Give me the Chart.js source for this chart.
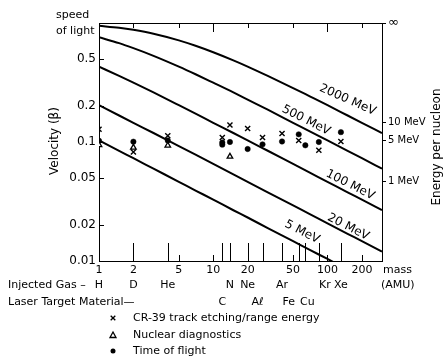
<!DOCTYPE html>
<html><head><meta charset="utf-8">
<script src="https://cdn.jsdelivr.net/npm/chart.js@4.4.1/dist/chart.umd.min.js"></script>
<style>html,body{margin:0;padding:0;background:#fff;}canvas{display:block;}</style>
</head><body>
<canvas id="c" width="443" height="358"></canvas>
<script>
// ---------- data ----------
const massTicks = [1, 2, 5, 10, 20, 50, 100, 200];
const massTickLabels = ['1', '2', '5', '10', '20', '50', '100', '200'];
const velTicks = [0.01, 0.02, 0.05, 0.1, 0.2, 0.5, 1];
const velTickLabels = ['0.01', '0.02', '0.05', '0.1', '0.2', '0.5', ''];
const energyTicks = [0.0463, 0.103, 0.145, 1];
const energyTickLabels = ['1 MeV', '5 MeV', '10 MeV', '\u221E'];

const curveLabels = ['2000 MeV', '500 MeV', '100 MeV', '20 MeV', '5 MeV'];
const curveMass = [1, 1.5, 2, 3, 5, 7, 10, 15, 20, 30, 50, 70, 100, 150, 200, 300];
const beta2000 = [0.948, 0.912, 0.876, 0.813, 0.715, 0.644, 0.568, 0.485, 0.430, 0.359, 0.284, 0.242, 0.204, 0.167, 0.145, 0.119];
const beta500  = [0.759, 0.677, 0.615, 0.530, 0.430, 0.371, 0.315, 0.261, 0.227, 0.187, 0.145, 0.123, 0.103, 0.0844, 0.0731, 0.0597];
const beta100  = [0.430, 0.359, 0.315, 0.261, 0.204, 0.173, 0.145, 0.119, 0.103, 0.0844, 0.0654, 0.0553, 0.0463, 0.0378, 0.0328, 0.0268];
const beta20   = [0.204, 0.167, 0.145, 0.119, 0.0924, 0.0782, 0.0655, 0.0535, 0.0463, 0.0378, 0.0293, 0.0248, 0.0207, 0.0169, 0.0147, 0.0120];
const beta5    = [0.103, 0.0842, 0.0731, 0.0597, 0.0463, 0.0391, 0.0328, 0.0267, 0.0232, 0.0189, 0.0147, 0.0124, 0.0104, 0.00846, 0.00733, 0.00598];

const cr39Mass = [1, 2, 4, 12, 14, 20, 27, 40, 56, 84, 131];
const cr39Beta = [0.128, 0.0824, 0.113, 0.109, 0.139, 0.130, 0.109, 0.118, 0.103, 0.0852, 0.101];
const nucMass = [1, 2, 4, 14];
const nucBeta = [0.0944, 0.0899, 0.0935, 0.0755];
const tofMass = [1, 2, 4, 12, 12, 14, 20, 27, 40, 56, 64, 84, 131];
const tofBeta = [0.1025, 0.1006, 0.103, 0.099, 0.0950, 0.100, 0.0873, 0.0956, 0.101, 0.116, 0.0938, 0.100, 0.121];

const gasNames = ['H', 'D', 'He', 'N', 'Ne', 'Ar', 'Kr', 'Xe'];
const gasMass = [1, 2, 4, 14, 20, 40, 84, 131];
const targetNames = ['C', 'A\u2113', 'Fe', 'Cu'];
const targetMass = [12, 27, 56, 64];
const elementLineMass = [2, 4, 12, 14, 20, 27, 40, 56, 64, 84, 131];
const legendLabels = ['CR-39 track etching/range energy', 'Nuclear diagnostics', 'Time of flight'];

// ---------- styling / layout ----------
const FONT = 'DejaVu Sans';
const INK = '#000';
const curveLabelPos = [
  {m: 150, b: 0.226, ang: 24},
  {m: 65, b: 0.152, ang: 27},
  {m: 158, b: 0.0436, ang: 27},
  {m: 152, b: 0.0193, ang: 27},
  {m: 60, b: 0.0175, ang: 27}
];
const gasShift = [0, 0, 0, 0, 0, 0, 6, 0];
const targetShift = [0, -5, -10, 2];

function xy(xs, ys) { return xs.map((x, i) => ({x: x, y: ys[i]})); }

const curveData = [beta2000, beta500, beta100, beta20, beta5];
const datasets = curveData.map((b, i) => ({
  label: curveLabels[i], data: xy(curveMass, b), borderColor: INK, borderWidth: 2,
  pointRadius: 0, fill: false, cubicInterpolationMode: 'monotone', order: 2, yAxisID: 'y'
}));
datasets.push({label: legendLabels[0], data: xy(cr39Mass, cr39Beta), showLine: false, pointStyle: 'crossRot',
  pointRadius: 3.6, borderColor: INK, backgroundColor: INK, borderWidth: 1.4, order: 0, yAxisID: 'y'});
datasets.push({label: legendLabels[1], data: xy(nucMass, nucBeta), showLine: false, pointStyle: 'triangle',
  pointRadius: 3.2, borderColor: INK, backgroundColor: '#fff', borderWidth: 1.3, order: 0, yAxisID: 'y'});
datasets.push({label: legendLabels[2], data: xy(tofMass, tofBeta), showLine: false, pointStyle: 'circle',
  pointRadius: 2.7, borderColor: INK, backgroundColor: INK, borderWidth: 0.5, order: 0, yAxisID: 'y'});

function seg(ctx, x1, y1, x2, y2) { ctx.beginPath(); ctx.moveTo(x1, y1); ctx.lineTo(x2, y2); ctx.stroke(); }

const decor = {
  id: 'decor',
  afterDraw(chart) {
    const ctx = chart.ctx, a = chart.chartArea, x = chart.scales.x, y = chart.scales.y;
    ctx.save();
    ctx.strokeStyle = INK; ctx.fillStyle = INK; ctx.lineWidth = 1;
    // top frame + ticks
    seg(ctx, a.left, a.top + 0.5, a.right, a.top + 0.5);
    massTicks.slice(1).forEach(m => {
      const px = Math.round(x.getPixelForValue(m)) + 0.5;
      const len = (m === 10 || m === 100) ? 9 : 5;
      seg(ctx, px, a.top, px, a.top + len);
    });
    // bottom inner ticks
    massTicks.slice(1).forEach(m => {
      const px = Math.round(x.getPixelForValue(m)) + 0.5;
      seg(ctx, px, a.bottom, px, a.bottom - 6);
    });
    // element marker lines
    elementLineMass.forEach(m => {
      const px = Math.round(x.getPixelForValue(m)) + 0.5;
      seg(ctx, px, a.bottom, px, a.bottom - 18);
    });
    // left inner ticks
    velTicks.slice(1, -1).forEach(v => {
      const py = Math.round(y.getPixelForValue(v)) + 0.5;
      seg(ctx, a.left, py, a.left + 5, py);
    });
    // speed of light label
    ctx.font = '11px "' + FONT + '"';
    ctx.textAlign = 'left'; ctx.textBaseline = 'middle';
    ctx.fillText('speed', 56, 15);
    ctx.fillText('of light', 56, 31);
    // curve labels
    ctx.font = '12px "' + FONT + '"';
    ctx.textAlign = 'center';
    curveLabelPos.forEach((p, i) => {
      ctx.save();
      ctx.translate(x.getPixelForValue(p.m), y.getPixelForValue(p.b));
      ctx.rotate(p.ang * Math.PI / 180);
      ctx.fillText(curveLabels[i], 0, 0);
      ctx.restore();
    });
    // axis titles
    ctx.font = '12px "' + FONT + '"';
    ctx.save(); ctx.translate(55, 141); ctx.rotate(-Math.PI / 2);
    ctx.fillText('Velocity (\u03B2)', 0, 0); ctx.restore();
    ctx.save(); ctx.translate(437, 147); ctx.rotate(-Math.PI / 2);
    ctx.fillText('Energy per nucleon', 0, 0); ctx.restore();
    // mass (AMU)
    ctx.font = '11px "' + FONT + '"';
    ctx.textAlign = 'left';
    ctx.fillText('mass', 383, 270);
    ctx.fillText('(AMU)', 381, 285);
    // element rows
    ctx.fillText('Injected Gas \u2013', 8, 285);
    ctx.fillText('Laser Target Material\u2014', 8, 302);
    ctx.textAlign = 'center';
    gasNames.forEach((n, i) => ctx.fillText(n, x.getPixelForValue(gasMass[i]) + gasShift[i], 285));
    targetNames.forEach((n, i) => ctx.fillText(n, x.getPixelForValue(targetMass[i]) + targetShift[i], 302));
    // legend
    const ly = [318, 335, 351], lx = 113;
    ctx.textAlign = 'left';
    legendLabels.forEach((t, i) => ctx.fillText(t, 133, ly[i]));
    ctx.lineWidth = 1.3;
    seg(ctx, lx - 2.3, ly[0] - 2.3, lx + 2.3, ly[0] + 2.3);
    seg(ctx, lx - 2.3, ly[0] + 2.3, lx + 2.3, ly[0] - 2.3);
    ctx.beginPath(); ctx.moveTo(lx, ly[1] - 3); ctx.lineTo(lx + 3, ly[1] + 2.5); ctx.lineTo(lx - 3, ly[1] + 2.5); ctx.closePath(); ctx.stroke();
    ctx.beginPath(); ctx.arc(lx, ly[2], 2.5, 0, Math.PI * 2); ctx.fill();
    ctx.restore();
  }
};

new Chart(document.getElementById('c'), {
  type: 'line',
  data: {datasets: datasets},
  plugins: [decor],
  options: {
    responsive: false, animation: false, devicePixelRatio: 1,
    layout: {padding: {top: 23, left: 0, right: 0, bottom: 0}},
    plugins: {legend: {display: false}, tooltip: {enabled: false}},
    scales: {
      x: {
        type: 'logarithmic', position: 'bottom', min: 1, max: 300,
        afterBuildTicks: s => { s.ticks = massTicks.map(v => ({value: v})); },
        afterFit: s => { s.height = 97; },
        ticks: {autoSkip: false, maxRotation: 0, padding: 3, color: INK, font: {family: FONT, size: 11},
          callback: (v, i) => massTickLabels[i]},
        grid: {display: false, drawTicks: false}, border: {display: true, color: INK, width: 1}
      },
      y: {
        type: 'logarithmic', position: 'left', min: 0.01, max: 1,
        afterBuildTicks: s => { s.ticks = velTicks.map(v => ({value: v})); },
        afterFit: s => { s.width = 99; },
        ticks: {autoSkip: false, padding: 3, color: INK, font: {family: FONT, size: 12},
          callback: (v, i) => velTickLabels[i]},
        grid: {display: false, drawTicks: false}, border: {display: true, color: INK, width: 1}
      },
      y2: {
        type: 'logarithmic', position: 'right', min: 0.01, max: 1,
        afterBuildTicks: s => { s.ticks = energyTicks.map(v => ({value: v})); },
        afterFit: s => { s.width = 61; },
        ticks: {autoSkip: false, padding: 2, color: INK,
          font: c => ({family: FONT, size: c.index === 3 ? 13 : 10}),
          callback: (v, i) => energyTickLabels[i]},
        grid: {display: true, drawOnChartArea: false, drawTicks: true, tickLength: 4, color: INK, lineWidth: 1},
        border: {display: true, color: INK, width: 1}
      }
    }
  }
});
</script>
</body></html>
